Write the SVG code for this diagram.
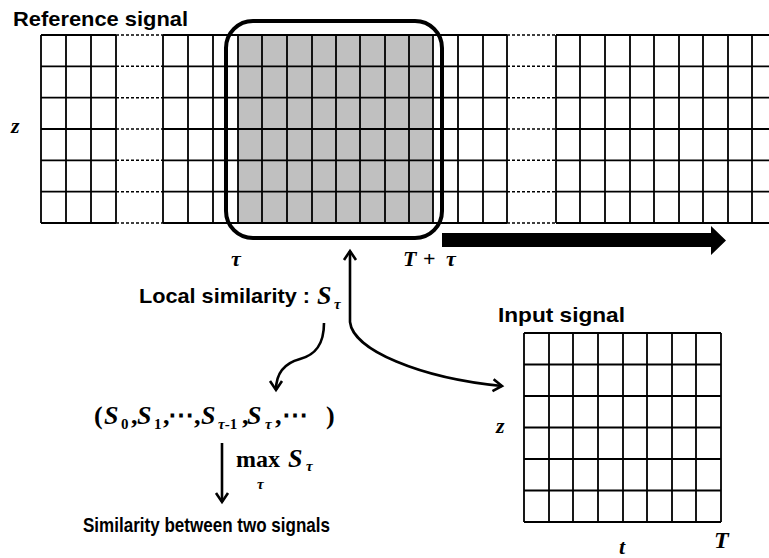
<svg xmlns="http://www.w3.org/2000/svg" width="769" height="558" viewBox="0 0 769 558">
<style>
.g{stroke:#000;stroke-width:1.8;fill:none}
.d{stroke:#000;stroke-width:1.5;fill:none;stroke-dasharray:3 2}
.lab{font-family:"Liberation Sans",Arial,sans-serif;font-weight:bold;font-size:21px;fill:#000}
.m{font-family:"Liberation Serif","Times New Roman",serif;font-weight:bold;font-style:italic;fill:#000}
.u{font-style:normal}
.c{stroke:#000;stroke-width:2.6;fill:none}
</style>
<defs>
<marker id="vh" markerUnits="userSpaceOnUse" markerWidth="16" markerHeight="16" viewBox="0 0 16 16" refX="13" refY="8" orient="auto-start-reverse">
<path d="M4,2 L13,8 L4,14" fill="none" stroke="#000" stroke-width="2.6"/>
</marker>
</defs>
<rect width="769" height="558" fill="#fff"/>

<g id="reference-signal">
<rect x="238" y="35" width="195" height="188" fill="#c0c0c0"/>
<path class="g" d="M41,35H116M163,35H507M556,35H769M41,66.3H116M163,66.3H507M556,66.3H769M41,97.7H116M163,97.7H507M556,97.7H769M41,129H116M163,129H507M556,129H769M41,160.3H116M163,160.3H507M556,160.3H769M41,191.7H116M163,191.7H507M556,191.7H769M41,223H116M163,223H507M556,223H769"/>
<path class="d" d="M116,35H163M507,35H556M116,66.3H163M507,66.3H556M116,97.7H163M507,97.7H556M116,129H163M507,129H556M116,160.3H163M507,160.3H556M116,191.7H163M507,191.7H556M116,223H163M507,223H556"/>
<path class="g" d="M41,35V223M66,35V223M91,35V223M116,35V223M163,35V223M188,35V223M213,35V223M238,35V223M262,35V223M287,35V223M312,35V223M336,35V223M360,35V223M385,35V223M409,35V223M433,35V223M458,35V223M483,35V223M507,35V223M556,35V223M580,35V223M605,35V223M630,35V223M654,35V223M679,35V223M703,35V223M728,35V223M752,35V223"/>
<text class="lab" x="13" y="26" textLength="175" lengthAdjust="spacingAndGlyphs">Reference signal</text>
<text class="m" x="11" y="133" font-size="22">z</text>
</g>

<g id="window">
<rect x="226" y="21" width="216" height="217" rx="27" ry="27" fill="none" stroke="#000" stroke-width="4"/>
<text class="m" x="231" y="266" font-size="22">τ</text>
<text class="m" y="266" font-size="22"><tspan x="403">T</tspan><tspan x="423" class="u">+</tspan><tspan x="446">τ</tspan></text>
</g>

<g id="shift-arrow">
<polygon points="442,233 711,233 711,226 726,240.5 711,255 711,247 442,247" fill="#000"/>
</g>

<g id="local-similarity">
<text class="lab" x="139" y="303" textLength="171" lengthAdjust="spacingAndGlyphs">Local similarity :</text>
<text class="m" x="317" y="304" font-size="26">S<tspan x="334" y="309" font-size="15">τ</tspan></text>
</g>

<g id="sequence">
<text class="m" y="424" font-size="26"><tspan x="94" class="u">(</tspan><tspan x="104">S</tspan><tspan x="121" y="429" font-size="15" class="u">0</tspan><tspan x="131" y="424" class="u">,</tspan><tspan x="137">S</tspan><tspan x="154" y="429" font-size="15" class="u">1</tspan><tspan x="163" y="424" class="u">,</tspan><tspan x="168" class="u">⋯</tspan><tspan x="194" class="u">,</tspan><tspan x="201">S</tspan><tspan x="218" y="429" font-size="15">τ<tspan class="u">-1</tspan></tspan><tspan x="242" y="424" class="u">,</tspan><tspan x="247">S</tspan><tspan x="265" y="429" font-size="15">τ</tspan><tspan x="275" y="424" class="u">,</tspan><tspan x="282" class="u">⋯</tspan><tspan x="326" class="u">)</tspan></text>
</g>

<g id="max-label">
<text class="m" y="467" font-size="24"><tspan x="236" class="u">max</tspan><tspan x="288" font-size="26">S</tspan><tspan x="306" y="471" font-size="15">τ</tspan></text>
<text class="m" x="257" y="489" font-size="15">τ</text>
</g>

<g id="similarity-result">
<text class="lab" x="83" y="532" textLength="247" lengthAdjust="spacingAndGlyphs">Similarity between two signals</text>
</g>

<g id="input-signal">
<path class="g" d="M524,333H721M524,364.5H721M524,396H721M524,427.5H721M524,459H721M524,490.5H721M524,522H721M524,333V522M549,333V522M573,333V522M598,333V522M623,333V522M647,333V522M672,333V522M696,333V522M721,333V522"/>
<text class="lab" x="498" y="322" textLength="127" lengthAdjust="spacingAndGlyphs">Input signal</text>
<text class="m" x="496" y="433" font-size="22">z</text>
<text class="m" x="619" y="554" font-size="22">t</text>
<text class="m" x="714" y="548" font-size="24">T</text>
</g>

<g id="connectors">
<path class="c" d="M350,251 V322 C353,350 420,378 502,386" marker-start="url(#vh)" marker-end="url(#vh)"/>
<path class="c" d="M324,323 C324,345 315,355 300,359 C285,363 276,372 276,390" marker-end="url(#vh)"/>
<path class="c" d="M222,443 V502" marker-end="url(#vh)"/>
</g>
</svg>
